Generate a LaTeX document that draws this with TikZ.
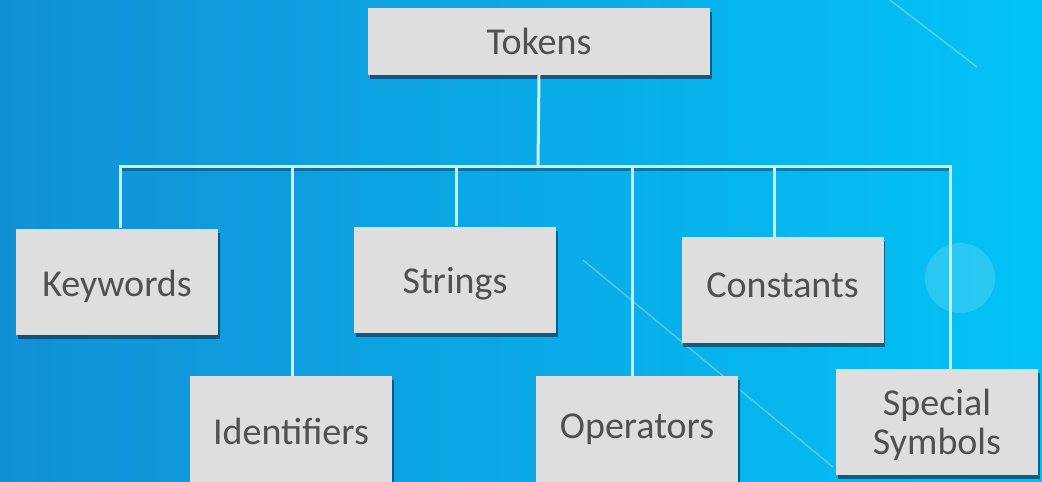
\documentclass[tikz,border=0pt]{standalone}
\usepackage{fontspec}
\setmainfont{Carlito}
\usetikzlibrary{shadows}
\definecolor{bgL}{HTML}{1290D6}
\definecolor{bgR}{HTML}{03C3F5}
\definecolor{boxfill}{HTML}{DEDEDE}
\definecolor{txt}{HTML}{505050}
\definecolor{wirec}{HTML}{D6EAF6}
\definecolor{shd}{HTML}{0A3A5A}
\newcommand{\lowr}[2]{\raisebox{#1}[\height][\depth]{#2}}
\begin{document}
\begin{tikzpicture}[x=1pt,y=-1pt,
  box/.style={fill=boxfill, text=txt, font=\fontsize{38}{39}\selectfont,
    inner sep=0pt, align=center, minimum width=202pt, minimum height=106pt,
    drop shadow={shadow xshift=1.5pt, shadow yshift=-4pt, fill=shd, opacity=0.7}},
  wire/.style={draw=wirec, line width=3pt, line join=miter},
  wireshadow/.style={draw=shd, line width=3pt, opacity=0.45},
  deco/.style={draw=white, line width=1.5pt, opacity=0.3}]
\clip (0,0) rectangle (1042,482);
\shade[left color=bgL, right color=bgR] (0,0) rectangle (1042,482);
% decorations
\fill[white, opacity=0.15] (960,278) circle (35);
\draw[deco] (583,260) -- (833,467);
\draw[deco] (890,0) -- (977,67);
% nodes
\node[box, minimum width=342pt, minimum height=67pt] (tok) at (539,41.5) {Tokens};
\node[box] (kw) at (117,281.5) {\lowr{-5pt}{Keywords}};
\node[box] (id) at (291,429) {\lowr{-2pt}{Identifiers}};
\node[box] (st) at (455,279.5) {\lowr{-4pt}{Strings}};
\node[box] (op) at (637,429) {Operators};
\node[box] (co) at (782.5,290) {\lowr{5pt}{Constants}};
\node[box] (ss) at (937,422) {\lowr{-3pt}{Special}\\\lowr{-3pt}{Symbols}};
% bar coordinates
\coordinate (hub) at (538,166);
\coordinate (d1) at (120,166);
\coordinate (d2) at (292,166);
\coordinate (d3) at (456,166);
\coordinate (d4) at (632,166);
\coordinate (d5) at (774,166);
\coordinate (d6) at (950,166);
\coordinate (s1) at (120,169.5);
\coordinate (s6) at (952,169.5);
% connectors
\draw[wireshadow] (s1) -- (s6);
\draw[wire] (tok.south) -- (hub);
\draw[wire] (d1 |- kw.north) -- (d1) -- (d6) -- (d6 |- ss.north);
\draw[wire] (d2) -- (d2 |- id.north);
\draw[wire] (d3) -- (d3 |- st.north);
\draw[wire] (d4) -- (d4 |- op.north);
\draw[wire] (d5) -- (d5 |- co.north);
\end{tikzpicture}
\end{document}
